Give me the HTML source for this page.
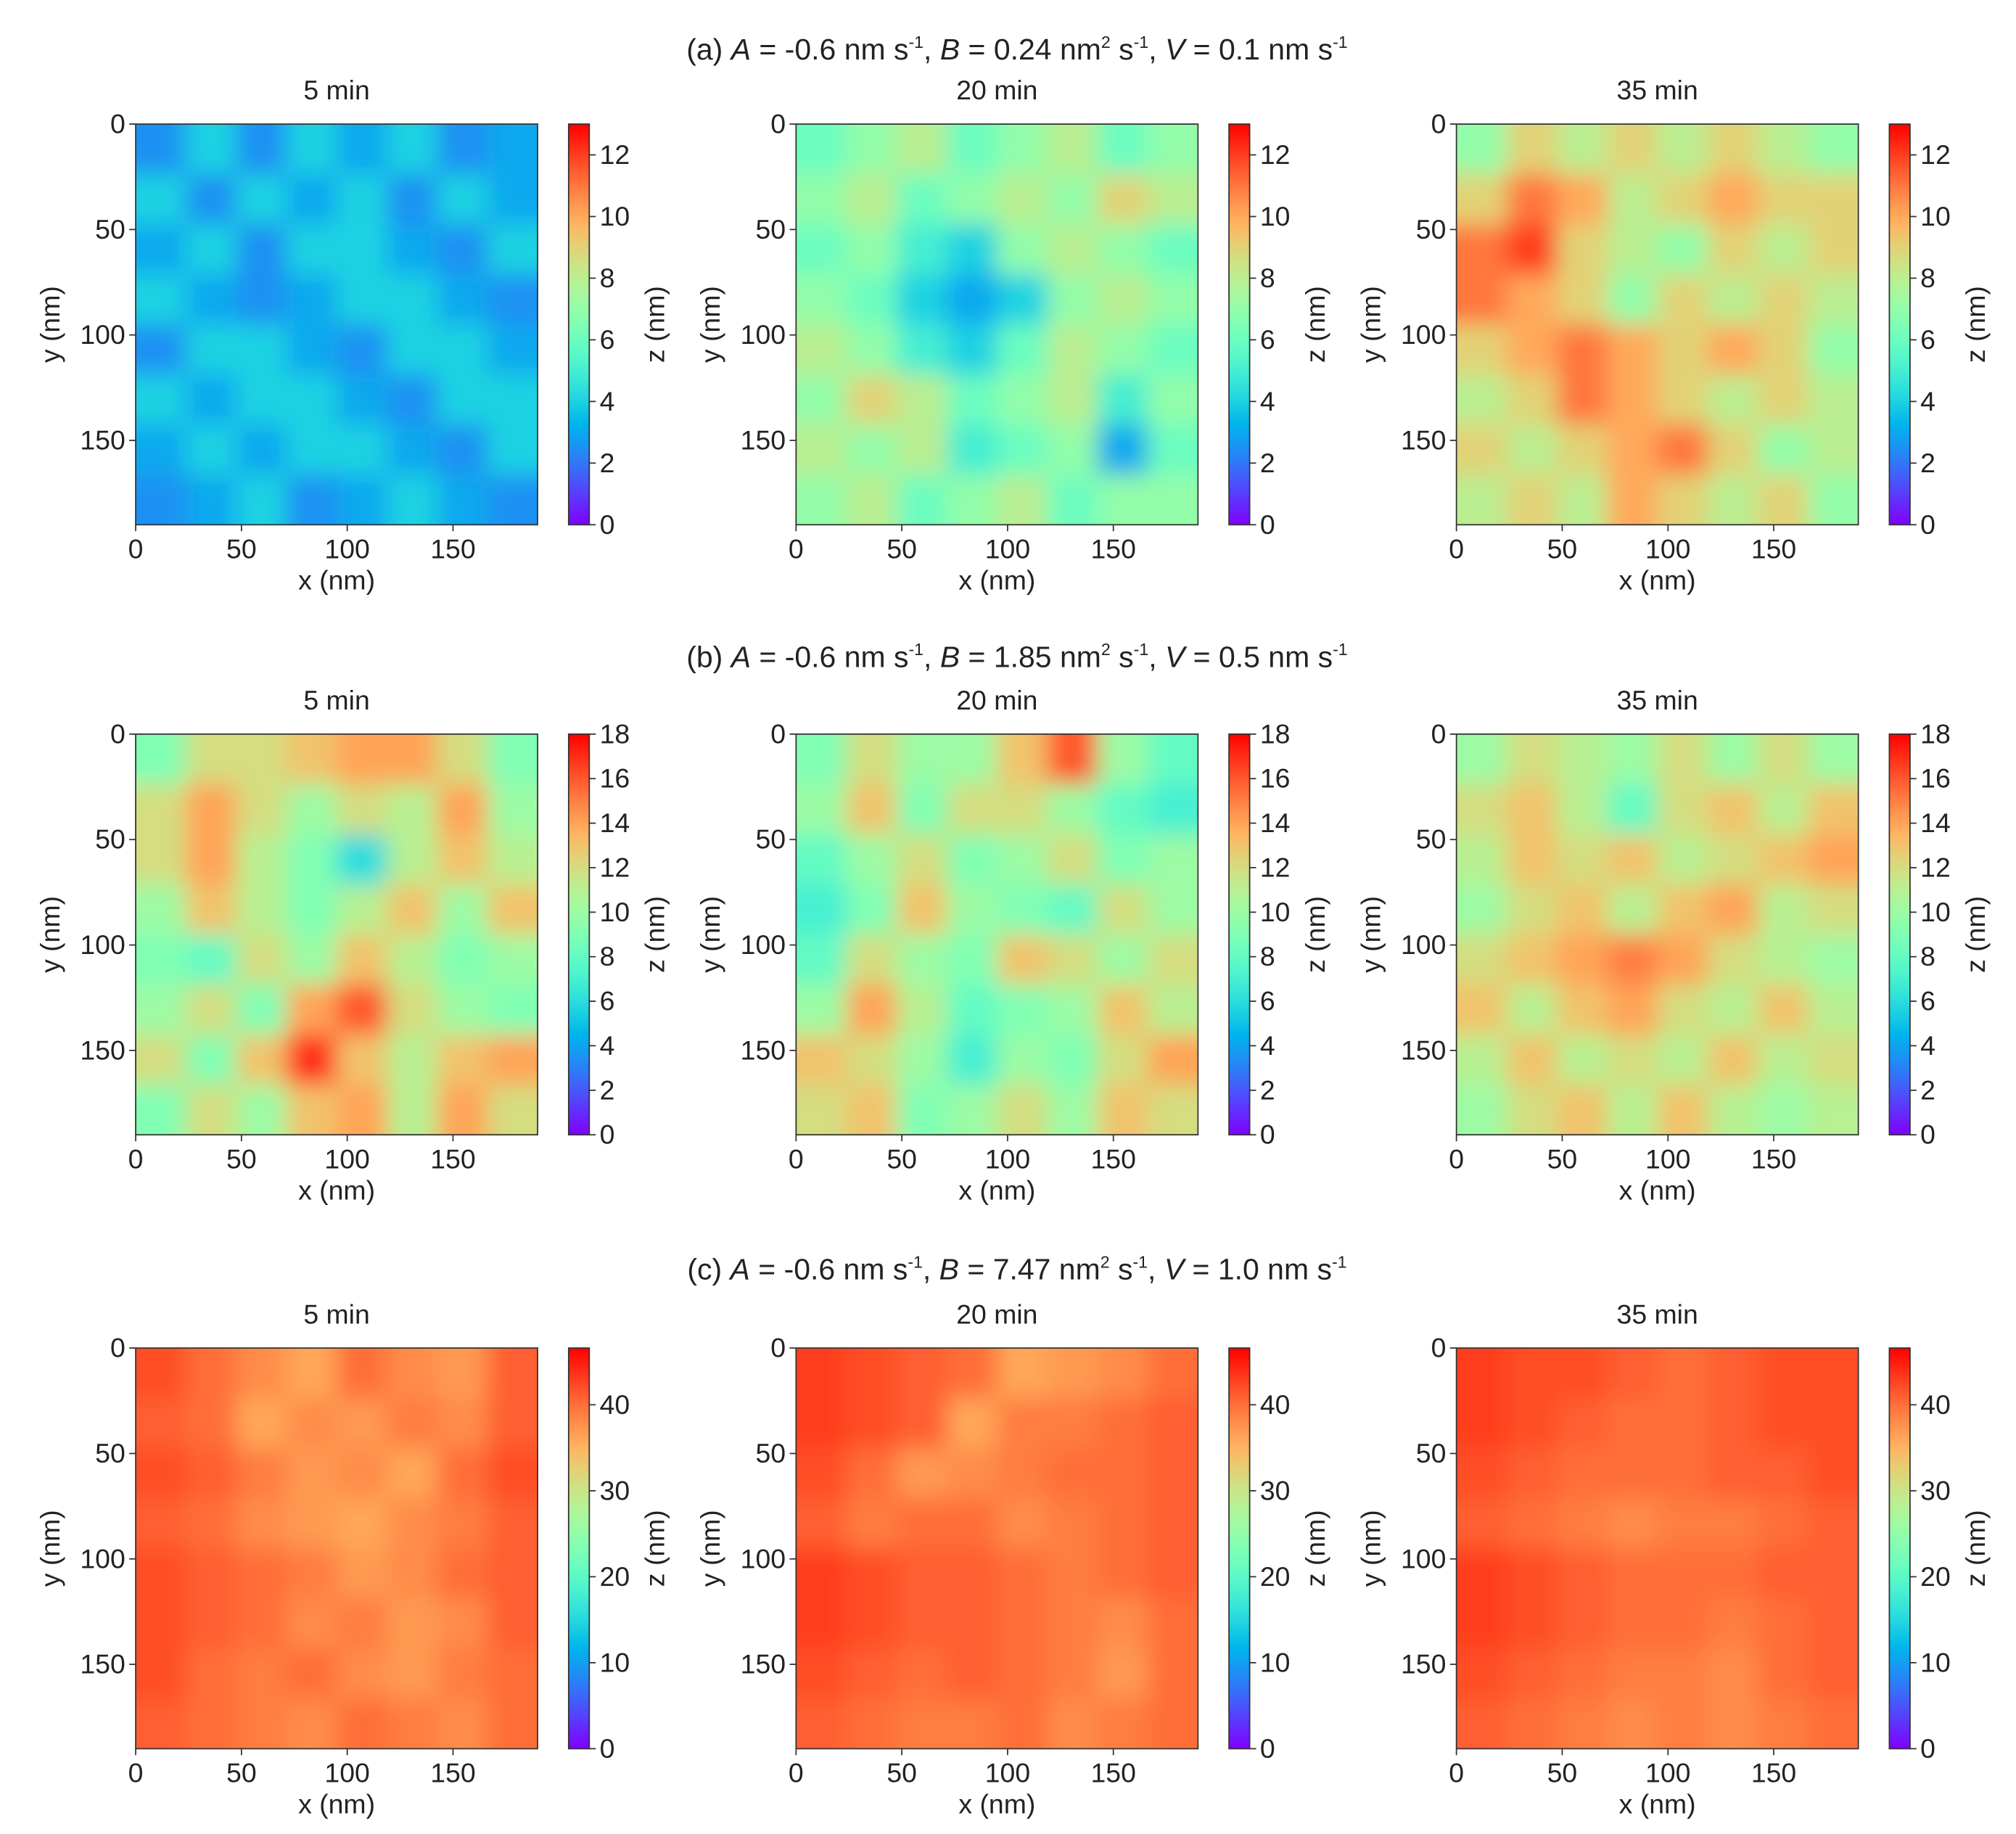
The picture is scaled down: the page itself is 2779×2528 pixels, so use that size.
<!DOCTYPE html>
<html><head><meta charset="utf-8"><style>
html,body{margin:0;padding:0;background:#fff}
svg{display:block}
text{font-family:"Liberation Sans","DejaVu Sans",sans-serif;fill:#222}
</style></head><body>
<svg id="fig" width="2779" height="2528" viewBox="0 0 1560 1419" preserveAspectRatio="none" xmlns="http://www.w3.org/2000/svg">
<defs>
<filter id="blur" x="-0.2" y="-0.2" width="1.4" height="1.4" filterUnits="objectBoundingBox"><feGaussianBlur stdDeviation="9"/></filter>
</defs>
<g id="titles">
<text x="787" y="46" font-size="23" text-anchor="middle">(a)  <tspan font-style="italic">A</tspan> = -0.6 nm s<tspan font-size="13" dy="-9">-1</tspan><tspan dy="9">, </tspan><tspan font-style="italic">B</tspan> = 0.24 nm<tspan font-size="13" dy="-9">2</tspan><tspan dy="9"> s</tspan><tspan font-size="13" dy="-9">-1</tspan><tspan dy="9">, </tspan><tspan font-style="italic">V</tspan> = 0.1 nm s<tspan font-size="13" dy="-9">-1</tspan></text>
<text x="787" y="516" font-size="23" text-anchor="middle">(b)  <tspan font-style="italic">A</tspan> = -0.6 nm s<tspan font-size="13" dy="-9">-1</tspan><tspan dy="9">, </tspan><tspan font-style="italic">B</tspan> = 1.85 nm<tspan font-size="13" dy="-9">2</tspan><tspan dy="9"> s</tspan><tspan font-size="13" dy="-9">-1</tspan><tspan dy="9">, </tspan><tspan font-style="italic">V</tspan> = 0.5 nm s<tspan font-size="13" dy="-9">-1</tspan></text>
<text x="787" y="990" font-size="23" text-anchor="middle">(c)  <tspan font-style="italic">A</tspan> = -0.6 nm s<tspan font-size="13" dy="-9">-1</tspan><tspan dy="9">, </tspan><tspan font-style="italic">B</tspan> = 7.47 nm<tspan font-size="13" dy="-9">2</tspan><tspan dy="9"> s</tspan><tspan font-size="13" dy="-9">-1</tspan><tspan dy="9">, </tspan><tspan font-style="italic">V</tspan> = 1.0 nm s<tspan font-size="13" dy="-9">-1</tspan></text>
</g>
<g id="panels"></g>
</svg>
<script>
const times = ["5 min","20 min","35 min"];
const xTicks = [0,50,100,150];
const yTicks = [0,50,100,150];
const cbarTicksA = [0,2,4,6,8,10,12];
const cbarTicksB = [0,2,4,6,8,10,12,14,16,18];
const cbarTicksC = [0,10,20,30,40];
const zMax = [13, 18, 46.6];
const a1 = [[2.5,4,2.5,4,3,4,2.5,3],[4,2.5,4,3,4,2.5,4,3],[3,4,2.5,4,4,3,2.5,4],[4,3,2.5,3,4,4,3,2.5],[2.5,4,4,3,2.5,4,4,3],[4,3,4,4,3,2.5,4,4],[3,4,3,4,4,3,2.5,4],[2.5,3,4,2.5,3,4,3,2.5]];
const a2 = [[6,7,8,6,7,8,6,7],[7,8,6,7,8,7,9,8],[6,7,5,4,7,8,7,6],[7,6,4,3,4,7,8,7],[8,7,5,4,6,8,7,6],[7,9,8,6,7,8,5,7],[8,7,8,5,6,7,3,6],[7,8,6,7,8,6,7,7]];
const a3 = [[7,9,8,9,8,9,8,7],[9,11,10,8,9,10,9,9],[11,12,9,8,7,9,8,9],[11,10,9,7,9,8,9,8],[9,10,11,10,9,10,9,7],[8,9,11,10,9,8,9,8],[9,8,9,10,11,9,7,8],[8,9,8,10,9,8,9,7]];
const b1 = [[9,12,12,13,14,14,12,9],[12,14,12,10,12,11,14,10],[12,14,11,9,6,11,13,11],[10,13,11,9,11,13,10,13],[9,8,12,10,13,11,9,10],[10,12,9,14,16,12,10,9],[12,9,13,17,13,11,13,14],[9,12,10,13,14,11,14,12]];
const b2 = [[9,12,10,10,13,16,10,8],[10,13,9,12,12,10,8,7],[8,10,12,9,10,12,9,10],[7,9,13,10,9,8,12,10],[8,12,10,9,13,12,10,12],[10,14,11,8,9,10,13,11],[13,12,10,7,10,9,12,14],[12,13,9,10,12,10,13,12]];
const b3 = [[10,12,11,10,12,10,12,10],[12,13,11,8,12,13,11,13],[11,13,12,13,11,12,13,14],[10,12,13,11,13,14,11,12],[12,13,14,15,14,12,11,10],[13,11,13,14,12,11,13,11],[11,13,11,12,11,13,11,12],[10,12,13,11,13,11,10,11]];
const c1 = [[42,40,38,36,40,38,37,41],[41,40,36,38,37,39,38,41],[42,41,39,37,38,36,40,42],[41,40,38,37,36,38,39,41],[42,41,40,39,37,38,40,41],[42,41,40,38,39,37,38,41],[42,40,39,40,38,37,39,40],[41,40,39,38,40,39,38,40]];
const c2 = [[43,42,41,40,36,37,38,40],[43,42,41,36,39,39,40,41],[42,40,37,38,39,40,40,41],[41,39,40,40,38,39,40,41],[43,42,41,41,40,39,40,41],[43,42,41,41,40,39,38,40],[42,41,40,41,40,39,37,40],[41,40,39,39,40,38,39,40]];
const c3 = [[43,42,42,41,40,41,42,42],[43,42,41,40,40,41,42,42],[42,41,40,40,40,41,41,42],[41,40,39,38,39,39,40,41],[43,42,41,40,40,40,41,41],[43,42,41,40,40,39,40,41],[42,41,40,39,39,38,40,41],[41,40,39,38,39,38,39,40]];
const grids = [[a1,a2,a3],[b1,b2,b3],[c1,c2,c3]];
const cbarTicks = [cbarTicksA, cbarTicksB, cbarTicksC];

const NS = "http://www.w3.org/2000/svg";
const colX = [105, 616, 1127];
const rowY = [96, 568, 1043];
const W = 311, H = 310, XMAX = 190, EXT = 40;
function rainbow(t){
  t = Math.max(0, Math.min(1, t));
  const r = Math.min(1, Math.abs(2*t - 0.5));
  const g = Math.sin(Math.PI * t);
  const b = Math.cos(Math.PI * t / 2);
  return "rgb(" + Math.round(r*255) + "," + Math.round(g*255) + "," + Math.round(b*255) + ")";
}
function el(tag, attrs, parent){
  const e = document.createElementNS(NS, tag);
  for (const k in attrs) e.setAttribute(k, attrs[k]);
  parent.appendChild(e); return e;
}
const root = document.getElementById("panels");
const defs = document.querySelector("defs");
const grad = el("linearGradient", {id:"cmap", x1:"0", y1:"1", x2:"0", y2:"0"}, defs);
for (let i = 0; i <= 20; i++) el("stop", {offset: (i/20), "stop-color": rainbow(i/20)}, grad);

for (let r = 0; r < 3; r++) {
  for (let c = 0; c < 3; c++) {
    const x0 = colX[c], y0 = rowY[r];
    const g = el("g", {}, root);
    
    
    const st = el("text", {x: x0 + W/2, y: y0 - 19, "font-size": 21, "text-anchor": "middle"}, g);
    st.textContent = times[c];
    
    
    const cp = el("clipPath", {id: "clip" + r + c}, defs);
    el("rect", {x: x0, y: y0, width: W, height: H}, cp);
    const hg = el("g", {"clip-path": "url(#clip" + r + c + ")"}, g);
    const inner = el("g", {filter: "url(#blur)"}, hg);
    const grid = grids[r][c];
    const n = grid.length, m = grid[0].length;
    const cw = W / m, ch = H / n;
    for (let i = 0; i < n; i++) for (let j = 0; j < m; j++) {
      let cx = x0 + j*cw, cy = y0 + i*ch, w = cw + 0.5, h = ch + 0.5;
      if (j === 0) { cx -= EXT; w += EXT; }
      if (j === m-1) { w += EXT; }
      if (i === 0) { cy -= EXT; h += EXT; }
      if (i === n-1) { h += EXT; }
      const cell = el("rect", {x: cx, y: cy, width: w, height: h, fill: rainbow(grid[i][j] / zMax[r])}, inner);
      
      
    }
    el("rect", {x: x0, y: y0, width: W, height: H, fill: "none", stroke: "#333", "stroke-width": 1}, g);
    const sx = v => x0 + v / XMAX * W;
    const sy = v => y0 + v / XMAX * H;
    xTicks.forEach(v => {
      el("line", {x1: sx(v), x2: sx(v), y1: y0 + H, y2: y0 + H + 5, stroke: "#333"}, g);
      const t = el("text", {x: sx(v), y: y0 + H + 26, "font-size": 21, "text-anchor": "middle"}, g);
      t.textContent = v;
      
      
    });
    yTicks.forEach(v => {
      el("line", {x1: x0 - 5, x2: x0, y1: sy(v), y2: sy(v), stroke: "#333"}, g);
      const t = el("text", {x: x0 - 8, y: sy(v) + 7, "font-size": 21, "text-anchor": "end"}, g);
      t.textContent = v;
      
      
    });
    const xl = el("text", {x: x0 + W/2, y: y0 + H + 50, "font-size": 21, "text-anchor": "middle"}, g);
    xl.textContent = "x (nm)";
    
    
    const yl = el("text", {x: 0, y: 0, "font-size": 21, "text-anchor": "middle", transform: "translate(" + (x0 - 59) + "," + (y0 + H/2) + ") rotate(-90)"}, g);
    yl.textContent = "y (nm)";
    
    
    const cbx = x0 + 335, cbw = 16;
    const cb = el("rect", {x: cbx, y: y0, width: cbw, height: H, fill: "url(#cmap)", stroke: "#333", "stroke-width": 1}, g);
    
    
    const cy = v => y0 + H - v / zMax[r] * H;
    cbarTicks[r].forEach(v => {
      el("line", {x1: cbx + cbw, x2: cbx + cbw + 5, y1: cy(v), y2: cy(v), stroke: "#333"}, g);
      const t = el("text", {x: cbx + cbw + 8, y: cy(v) + 7, "font-size": 21}, g);
      t.textContent = v;
      
      
    });
    const zl = el("text", {x: 0, y: 0, "font-size": 21, "text-anchor": "middle", transform: "translate(" + (cbx + 74) + "," + (y0 + H/2) + ") rotate(-90)"}, g);
    zl.textContent = "z (nm)";
    
    
  }
}
</script>
</body></html>
